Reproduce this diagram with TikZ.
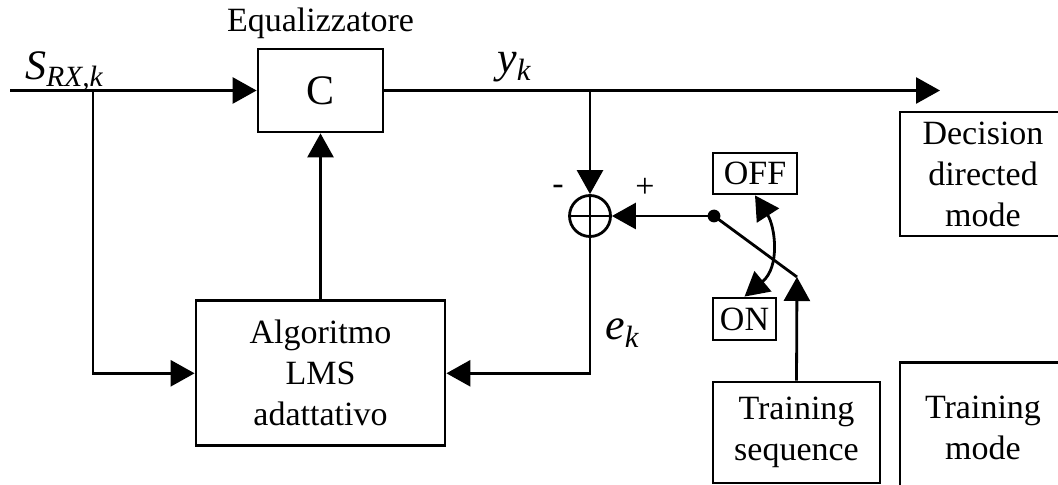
\documentclass[tikz,border=0pt]{standalone}
\usepackage{amsmath}
\usepackage{fontspec}
\setmainfont{Liberation Serif}
\usepackage{tikz}
\usetikzlibrary{arrows.meta,positioning}

\begin{document}
\begin{tikzpicture}[
  x=0.5pt,y=-0.5pt,
  >={Triangle[length=12pt,width=13pt]},
  line width=1.4pt,
  font=\fontsize{17}{20.5}\selectfont,
  block/.style={draw,line width=1.4pt,align=center,inner sep=0pt},
  sig/.style={->},
  note/.style={inner sep=0pt},
  mathlbl/.style={inner sep=0pt,anchor=base west,font=\fontsize{22}{26}\selectfont}
]
\useasboundingbox (0,0) rectangle (1058,485);
\clip (0,0) rectangle (1058,485);

\node[block,minimum width=62.5pt,minimum height=41.5pt,font=\fontsize{21}{25}\selectfont] (c) at (320.5,90.5) {C};
\node[note,above=3.5pt of c] (eqlbl) {Equalizzatore};
\node[block,minimum width=124.5pt,minimum height=72.5pt,below=83pt of c] (lms) {Algoritmo\\LMS\\adattativo};
\node[draw,circle,minimum size=20.5pt,inner sep=0pt] (sum) at (590,216) {};
\node[block,minimum width=42pt,minimum height=20.5pt] (off) at (755,173.5) {OFF};
\node[block,minimum width=31.5pt,minimum height=21pt] (on) at (744.5,319) {ON};
\node[block,minimum width=83.5pt,minimum height=50.5pt] (tseq) at (796.5,432.5) {Training\\sequence};
\node[block,minimum width=83pt,minimum height=62pt] (ddmode) at (983,174) {Decision\\directed\\mode};
\node[block,minimum width=83pt,minimum height=65pt,below=62pt of ddmode] (tmode) {Training\\mode};

\coordinate (in) at (10,90.5);
\coordinate (branch) at (93,90.5);
\coordinate (tap) at (590,90.5);
\coordinate (out) at (940,90.5);
\coordinate (pivot) at (714,216);
\coordinate (swend) at (797,277);

\node[mathlbl,font=\fontsize{21}{25}\selectfont] (srx) at (24,80) {\textit{S}$_{\text{\itshape RX,k}}$};
\node[mathlbl] (yk) at (496,73) {\textit{y}$_{\text{\itshape k}}$};
\node[mathlbl] (ek) at (604,340) {\textit{e}$_{\text{\itshape k}}$};
\node[note] (minus) at (558,190) {-};
\node[note] (plus) at (645,188) {+};

\draw (in) -- (branch);
\draw[sig] (branch) -- (c.west);
\draw[sig] (branch) |- (lms.west);
\draw[sig] (lms) -- (c);
\draw[sig] (c.east) -- (out);
\draw[sig] (tap) -- (sum.north);
\draw (sum.north) -- (sum.south);
\draw (sum.west) -- (sum.east);
\draw[sig] (sum.south) |- (lms.east);
\fill (pivot) circle (3.2pt);
\draw[sig] (pivot) -- (sum.east);
\draw (pivot) -- (swend);
\draw[sig] (tseq.north) -- (swend);
\draw[sig,<->] (off.south) .. controls +(20,31) and +(36,-30) .. (on.north);
\end{tikzpicture}
\end{document}
